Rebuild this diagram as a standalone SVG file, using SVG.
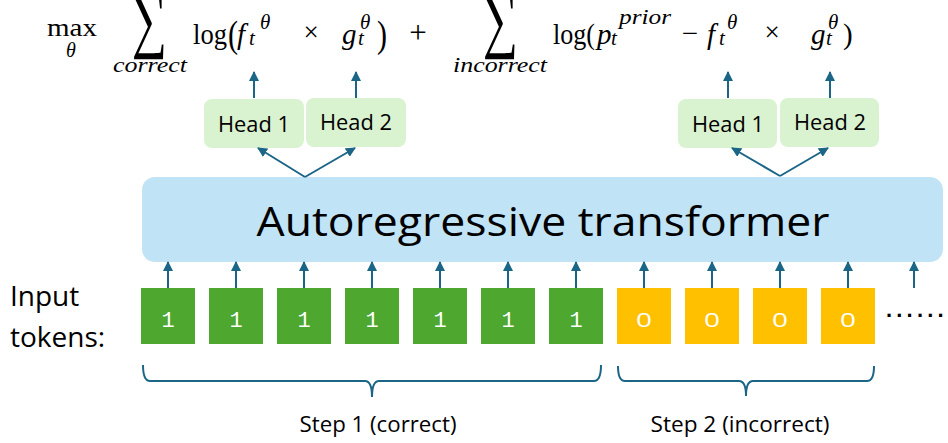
<svg xmlns="http://www.w3.org/2000/svg" width="948" height="443" viewBox="0 0 948 443">
<style>
.m{font-family:"Liberation Serif","DejaVu Serif",serif;fill:#000}
.i{font-style:italic}
.s{font-family:"Open Sans","Noto Sans",sans-serif;fill:#000}
.tok{font-family:"Liberation Mono","DejaVu Sans Mono",monospace;fill:#fff;font-size:22px;text-anchor:middle}
.zero{font-family:"Open Sans","Noto Sans",sans-serif;fill:#fff;font-size:20px}
.g{fill:#4EA72E}
.y{fill:#FFC000}
.head{fill:#D9F2D0}
.ar{stroke:#1B6587;stroke-width:2;fill:none;marker-end:url(#ah)}
.br{stroke:#1B6587;stroke-width:2;fill:none}
</style>
<defs>
<marker id="ah" viewBox="0 0 10 10" refX="9" refY="5" markerWidth="5" markerHeight="5" orient="auto" markerUnits="strokeWidth">
<path d="M0,0 L10,5 L0,10 z" fill="#1B6587"/>
</marker>
</defs>
<rect width="948" height="443" fill="#fff"/>

<g id="formula">
<text class="m" x="47" y="36" font-size="25" textLength="50" lengthAdjust="spacingAndGlyphs">max</text>
<text class="m i" x="66" y="57" font-size="20">θ</text>
<text class="m" transform="translate(132,44) scale(1,1.3)" font-size="56" textLength="35" lengthAdjust="spacingAndGlyphs">∑</text>
<text class="m i" x="113" y="72" font-size="22" textLength="74" lengthAdjust="spacingAndGlyphs">correct</text>
<text class="m" x="193" y="44" font-size="29" textLength="34" lengthAdjust="spacingAndGlyphs">log</text>
<text class="m" x="228" y="47" font-size="38" textLength="10" lengthAdjust="spacingAndGlyphs">(</text>
<text class="m i" x="237" y="44" font-size="29">f</text>
<text class="m i" x="249" y="45" font-size="21">t</text>
<text class="m i" x="260" y="29" font-size="21">θ</text>
<text class="m" x="311" y="41" font-size="27" text-anchor="middle">×</text>
<text class="m i" x="342" y="44" font-size="29">g</text>
<text class="m i" x="358" y="45" font-size="21">t</text>
<text class="m i" x="360" y="29" font-size="21">θ</text>
<text class="m" x="377" y="47" font-size="38" textLength="10" lengthAdjust="spacingAndGlyphs">)</text>
<text class="m" x="418" y="43" font-size="31" text-anchor="middle">+</text>
<text class="m" transform="translate(483,44) scale(1,1.3)" font-size="56" textLength="35" lengthAdjust="spacingAndGlyphs">∑</text>
<text class="m i" x="453" y="72" font-size="22" textLength="94" lengthAdjust="spacingAndGlyphs">incorrect</text>
<text class="m" x="553" y="44" font-size="29" textLength="42" lengthAdjust="spacingAndGlyphs">log(</text>
<text class="m i" x="597" y="44" font-size="29">p</text>
<text class="m i" x="611" y="45" font-size="21">t</text>
<text class="m i" x="619" y="24" font-size="21" textLength="52" lengthAdjust="spacingAndGlyphs">prior</text>
<text class="m" x="690" y="43" font-size="29" text-anchor="middle">−</text>
<text class="m i" x="707" y="44" font-size="29">f</text>
<text class="m i" x="719" y="45" font-size="21">t</text>
<text class="m i" x="727" y="29" font-size="21">θ</text>
<text class="m" x="772" y="41" font-size="27" text-anchor="middle">×</text>
<text class="m i" x="811" y="44" font-size="29">g</text>
<text class="m i" x="826" y="45" font-size="21">t</text>
<text class="m i" x="828" y="29" font-size="21">θ</text>
<text class="m" x="843" y="44" font-size="29">)</text>
</g>

<g id="head1a"><rect class="head" x="204" y="99" width="100" height="49" rx="8"/><text class="s" x="254" y="132" font-size="22" text-anchor="middle" textLength="72" lengthAdjust="spacingAndGlyphs">Head 1</text></g>
<g id="head2a"><rect class="head" x="306" y="98" width="100" height="49" rx="8"/><text class="s" x="356" y="130" font-size="22" text-anchor="middle" textLength="72" lengthAdjust="spacingAndGlyphs">Head 2</text></g>
<g id="head1b"><rect class="head" x="678" y="99" width="99" height="49" rx="8"/><text class="s" x="728" y="132" font-size="22" text-anchor="middle" textLength="72" lengthAdjust="spacingAndGlyphs">Head 1</text></g>
<g id="head2b"><rect class="head" x="780" y="98" width="99" height="49" rx="8"/><text class="s" x="830" y="130" font-size="22" text-anchor="middle" textLength="72" lengthAdjust="spacingAndGlyphs">Head 2</text></g>

<g id="transformer"><rect x="142" y="177" width="801" height="85" rx="13" fill="#C0E4F5"/><text class="s" x="543" y="236" font-size="40" text-anchor="middle" textLength="573" lengthAdjust="spacingAndGlyphs">Autoregressive transformer</text></g>

<g id="label"><text class="s" x="10" y="306" font-size="28">Input</text><text class="s" x="10" y="347" font-size="28">tokens:</text></g>

<g id="tokens">
<g id="t1"><rect class="g" x="141" y="288" width="54" height="56"/><text class="tok" x="168" y="327">1</text></g>
<g id="t2"><rect class="g" x="209" y="288" width="54" height="56"/><text class="tok" x="236" y="327">1</text></g>
<g id="t3"><rect class="g" x="277" y="288" width="54" height="56"/><text class="tok" x="304" y="327">1</text></g>
<g id="t4"><rect class="g" x="345" y="288" width="54" height="56"/><text class="tok" x="372" y="327">1</text></g>
<g id="t5"><rect class="g" x="413" y="288" width="54" height="56"/><text class="tok" x="440" y="327">1</text></g>
<g id="t6"><rect class="g" x="481" y="288" width="54" height="56"/><text class="tok" x="508" y="327">1</text></g>
<g id="t7"><rect class="g" x="549" y="288" width="54" height="56"/><text class="tok" x="576" y="327">1</text></g>
<g id="t8"><rect class="y" x="617" y="288" width="54" height="56"/><text class="zero" x="636" y="327" textLength="16" lengthAdjust="spacingAndGlyphs">0</text></g>
<g id="t9"><rect class="y" x="685" y="288" width="54" height="56"/><text class="zero" x="704" y="327" textLength="16" lengthAdjust="spacingAndGlyphs">0</text></g>
<g id="t10"><rect class="y" x="753" y="288" width="54" height="56"/><text class="zero" x="772" y="327" textLength="16" lengthAdjust="spacingAndGlyphs">0</text></g>
<g id="t11"><rect class="y" x="821" y="288" width="54" height="56"/><text class="zero" x="840" y="327" textLength="16" lengthAdjust="spacingAndGlyphs">0</text></g>
<text id="dots" x="886" y="317" font-family="Liberation Sans,Arial,sans-serif" font-weight="bold" font-size="22" letter-spacing="4.2">......</text>
</g>

<g id="connectors">
<path class="ar" d="M168,288 V262"/>
<path class="ar" d="M236,288 V262"/>
<path class="ar" d="M304,288 V262"/>
<path class="ar" d="M372,288 V262"/>
<path class="ar" d="M440,288 V262"/>
<path class="ar" d="M508,288 V262"/>
<path class="ar" d="M576,288 V262"/>
<path class="ar" d="M644,288 V262"/>
<path class="ar" d="M712,288 V262"/>
<path class="ar" d="M780,288 V262"/>
<path class="ar" d="M848,288 V262"/>
<path class="ar" d="M914,288 V262"/>
<path class="ar" d="M305,177 L258,148"/>
<path class="ar" d="M305,177 L355,148"/>
<path class="ar" d="M780,176 L732,148"/>
<path class="ar" d="M780,176 L828,148"/>
<path class="ar" d="M254,98 V72"/>
<path class="ar" d="M356,98 V72"/>
<path class="ar" d="M728,98 V72"/>
<path class="ar" d="M830,98 V72"/>
</g>

<g id="braces">
<path class="br" d="M143,365 Q143,381 150,381 H365 Q372,381 372,397 Q372,381 379,381 H594 Q601,381 601,365"/>
<path class="br" d="M618,366 Q618,381 625,381 H739 Q746,381 746,396 Q746,381 753,381 H867 Q874,381 874,366"/>
<text class="s" x="378" y="432" font-size="21" text-anchor="middle" textLength="157" lengthAdjust="spacingAndGlyphs">Step 1 (correct)</text>
<text class="s" x="740" y="432" font-size="21" text-anchor="middle" textLength="179" lengthAdjust="spacingAndGlyphs">Step 2 (incorrect)</text>
</g>
</svg>
